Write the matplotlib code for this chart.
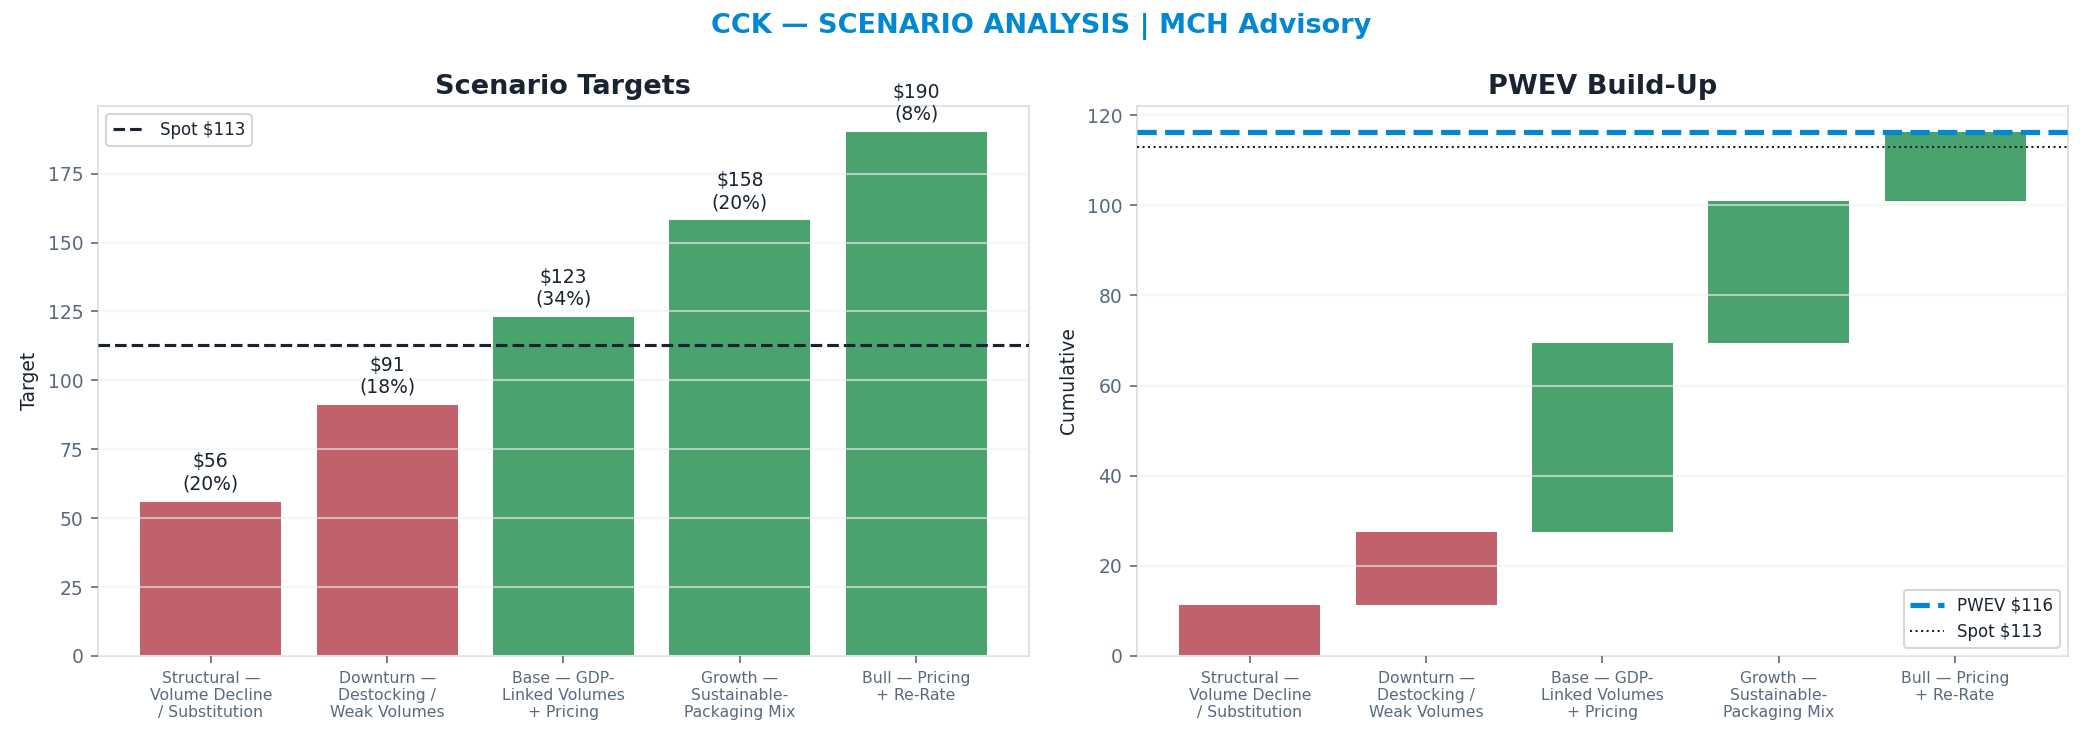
import numpy as np
import matplotlib
matplotlib.use("Agg")
import matplotlib.pyplot as plt

# scenario data
scenarios = ["Structural —\nVolume Decline\n/ Substitution",
             "Downturn —\nDestocking /\nWeak Volumes",
             "Base — GDP-\nLinked Volumes\n+ Pricing",
             "Growth —\nSustainable-\nPackaging Mix",
             "Bull — Pricing\n+ Re-Rate"]
targets = [56, 91, 123, 158, 190]
probs = [0.20, 0.18, 0.34, 0.20, 0.08]
spot = 113

RED = "#c0616b"
GREEN = "#4aa36f"
DARK = "#1a2332"
GRAY = "#5a6a7e"
BLUE = "#0288d1"
SPINE = "#d5dce6"

plt.rcParams['font.family'] = ['DejaVu Sans']

fig, (ax1, ax2) = plt.subplots(1, 2, figsize=(2083/150, 742/150), dpi=150)
fig.subplots_adjust(left=0.047, right=0.9928, top=0.857, bottom=0.116, wspace=0.116)

colors = [RED if t < spot else GREEN for t in targets]
x = np.arange(len(scenarios))

# left: scenario targets
ax1.bar(x, targets, color=colors, width=0.8, zorder=1)
ax1.axhline(spot, color=DARK, ls='--', lw=1.5, label=f"Spot ${spot}", zorder=3)
for xi, t, p in zip(x, targets, probs):
    ax1.annotate(f"${t}\n({p*100:.0f}%)", (xi, t), xytext=(0, 4),
                 textcoords='offset points', ha='center', va='bottom',
                 fontsize=9, color=DARK)
ax1.set_ylim(0, max(targets) * 1.05)
ax1.set_ylabel("Target", fontsize=9, color=DARK)
ax1.set_title("Scenario Targets", fontsize=13, fontweight='bold', color=DARK)
ax1.legend(loc='upper left', fontsize=8, labelcolor=DARK)

# right: PWEV build-up
contrib = [t * p for t, p in zip(targets, probs)]
bottoms = np.concatenate([[0], np.cumsum(contrib)[:-1]])
pwev = sum(contrib)
ax2.bar(x, contrib, bottom=bottoms, color=colors, width=0.8, zorder=1)
ax2.axhline(pwev, color=BLUE, ls='--', lw=2.5, label=f"PWEV ${pwev:.0f}", zorder=3)
ax2.axhline(spot, color=DARK, ls=':', lw=1, label=f"Spot ${spot}", zorder=3)
ax2.set_ylim(0, pwev * 1.05)
ax2.set_ylabel("Cumulative", fontsize=9, color=DARK)
ax2.set_title("PWEV Build-Up", fontsize=13, fontweight='bold', color=DARK)
ax2.legend(loc='lower right', fontsize=8, labelcolor=DARK)

for ax in (ax1, ax2):
    ax.set_xticks(x)
    ax.set_xticklabels(scenarios, fontsize=7.5, color=GRAY)
    ax.tick_params(axis='y', labelsize=9, colors=GRAY)
    ax.tick_params(axis='x', colors=GRAY)
    ax.grid(axis='y', color='#eef0f3', alpha=0.6, lw=1, zorder=2)
    ax.set_axisbelow(False)
    for s in ax.spines.values():
        s.set_color(SPINE)

fig.suptitle("CCK — SCENARIO ANALYSIS | MCH Advisory", fontsize=13,
             fontweight='bold', color=BLUE, y=0.983)

fig.savefig("out.png", dpi=150)
